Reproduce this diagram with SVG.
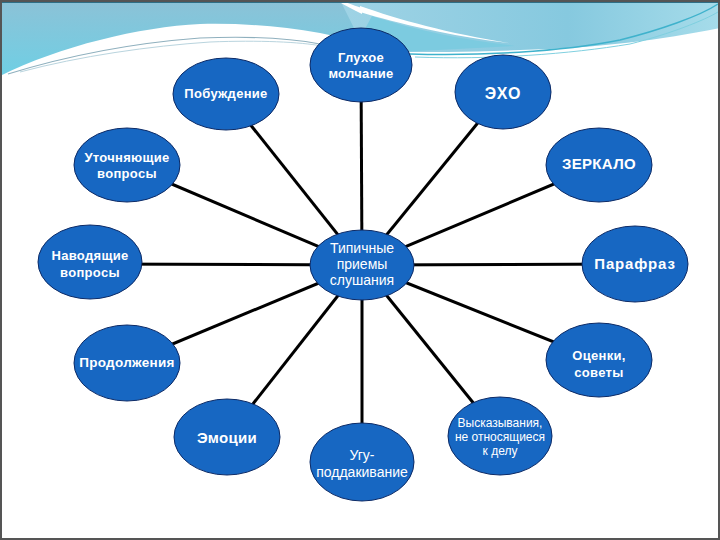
<svg xmlns="http://www.w3.org/2000/svg" width="720" height="540" viewBox="0 0 720 540">
<defs>
<linearGradient id="skyL" x1="0" y1="0" x2="0" y2="1">
<stop offset="0" stop-color="#8cc2d7"/>
<stop offset="1" stop-color="#6fcfe4"/>
</linearGradient>
<linearGradient id="skyR" x1="0" y1="0" x2="1" y2="0">
<stop offset="0" stop-color="#9fd3e5"/>
<stop offset="0.6" stop-color="#86c9df"/>
<stop offset="1" stop-color="#a6dcea"/>
</linearGradient>
<style>
.node ellipse{fill:#1767c2;stroke:#0c2a66;stroke-width:1}
.node text{fill:#ffffff;font-family:"Liberation Sans",Arial,sans-serif;font-weight:bold;font-size:13px;text-anchor:middle;letter-spacing:0.3px}
.node text.reg{font-weight:normal;letter-spacing:0}
#connectors line{stroke:#000000;stroke-width:3}
</style>
</defs>
<rect x="0" y="0" width="720" height="540" fill="#ffffff"/>
<g id="decoration">
<path d="M0,0 H400 V52 C370,44 345,38 320,33 C280,26 240,23 200,24 C140,27 60,46 0,76 Z" fill="url(#skyL)"/>
<path d="M340,0 H720 V28 C660,40 600,48 520,50 C470,52 430,52 400,52 L360,40 Z" fill="url(#skyR)"/>
<path d="M372,16 C410,28 450,38 515,46 L400,52 C385,46 372,42 360,38 Z" fill="#7ccbe0"/>
<path d="M360,6 C400,20 450,34 515,44 C450,36 400,24 360,12 Z" fill="#ffffff"/>
<path d="M340,0 C350,4 356,6 362,8 L362,14 C354,10 346,6 336,0 Z" fill="#ffffff"/>
<path d="M8,74 C60,58 120,44 200,38 C250,36 290,38 320,44" fill="none" stroke="#8fb0be" stroke-width="1.2"/>
<path d="M20,72 C80,56 150,46 210,42 C260,40 300,42 322,46" fill="none" stroke="#b9d4de" stroke-width="1"/>
<path d="M410,54 C480,56 560,52 620,40 C660,30 700,16 718,4" fill="none" stroke="#3fb2cc" stroke-width="1.5"/>
<path d="M415,57 C490,60 570,54 630,44 C670,34 705,20 718,12" fill="none" stroke="#7fd0e0" stroke-width="1"/>
<rect x="0" y="0" width="720" height="3" fill="#2f6f86"/>
</g>
<g id="connectors">
<line x1="362" y1="265" x2="226" y2="94"/>
<line x1="362" y1="265" x2="361" y2="65"/>
<line x1="362" y1="265" x2="503" y2="92"/>
<line x1="362" y1="265" x2="127" y2="165"/>
<line x1="362" y1="265" x2="599" y2="165"/>
<line x1="362" y1="265" x2="90" y2="264"/>
<line x1="362" y1="265" x2="635" y2="264"/>
<line x1="362" y1="265" x2="127" y2="363"/>
<line x1="362" y1="265" x2="599" y2="360"/>
<line x1="362" y1="265" x2="227" y2="437"/>
<line x1="362" y1="265" x2="362" y2="462"/>
<line x1="362" y1="265" x2="500" y2="436"/>
</g>
<g id="node-pobuzhdenie" class="node"><ellipse cx="226" cy="94" rx="53" ry="36"/><text x="226" y="98">Побуждение</text></g>
<g id="node-glukhoe" class="node"><ellipse cx="361" cy="65" rx="51" ry="37"/><text x="361" y="62">Глухое</text><text x="361" y="78">молчание</text></g>
<g id="node-ekho" class="node"><ellipse cx="503" cy="92" rx="48" ry="37"/><text x="503" y="99" style="font-size:16px;letter-spacing:1px">ЭХО</text></g>
<g id="node-utochnyayushchie" class="node"><ellipse cx="127" cy="165" rx="53" ry="37"/><text x="127" y="162">Уточняющие</text><text x="127" y="178">вопросы</text></g>
<g id="node-zerkalo" class="node"><ellipse cx="599" cy="165" rx="53" ry="37"/><text x="599" y="169" style="font-size:15px">ЗЕРКАЛО</text></g>
<g id="node-navodyashchie" class="node"><ellipse cx="90" cy="262" rx="52" ry="37"/><text x="90" y="260">Наводящие</text><text x="90" y="277">вопросы</text></g>
<g id="node-hub" class="node"><ellipse cx="362" cy="265" rx="52" ry="35"/><text class="reg" x="362" y="253" style="font-size:14px">Типичные</text><text class="reg" x="362" y="269" style="font-size:14px">приемы</text><text class="reg" x="362" y="285" style="font-size:14px">слушания</text></g>
<g id="node-parafraz" class="node"><ellipse cx="635" cy="264" rx="53" ry="38"/><text x="635" y="269" style="font-size:15px;letter-spacing:0.8px">Парафраз</text></g>
<g id="node-prodolzheniya" class="node"><ellipse cx="127" cy="363" rx="53" ry="38"/><text x="127" y="367" style="font-size:13.5px">Продолжения</text></g>
<g id="node-otsenki" class="node"><ellipse cx="599" cy="360" rx="53" ry="37"/><text x="599" y="360">Оценки,</text><text x="599" y="377">советы</text></g>
<g id="node-emotsii" class="node"><ellipse cx="227" cy="437" rx="53" ry="38"/><text x="227" y="443" style="font-size:15px">Эмоции</text></g>
<g id="node-ugu" class="node"><ellipse cx="362" cy="462" rx="52" ry="39"/><text class="reg" x="362" y="460" style="font-size:14px">Угу-</text><text class="reg" x="362" y="477" style="font-size:14px">поддакивание</text></g>
<g id="node-vyskazyvaniya" class="node"><ellipse cx="500" cy="436" rx="52" ry="39"/><text class="reg" x="500" y="427" style="font-size:12px">Высказывания,</text><text class="reg" x="500" y="441" style="font-size:12px">не относящиеся</text><text class="reg" x="500" y="455" style="font-size:12px">к делу</text></g>
<rect x="1" y="1" width="718" height="538" fill="none" stroke="#555555" stroke-width="2"/>
</svg>
